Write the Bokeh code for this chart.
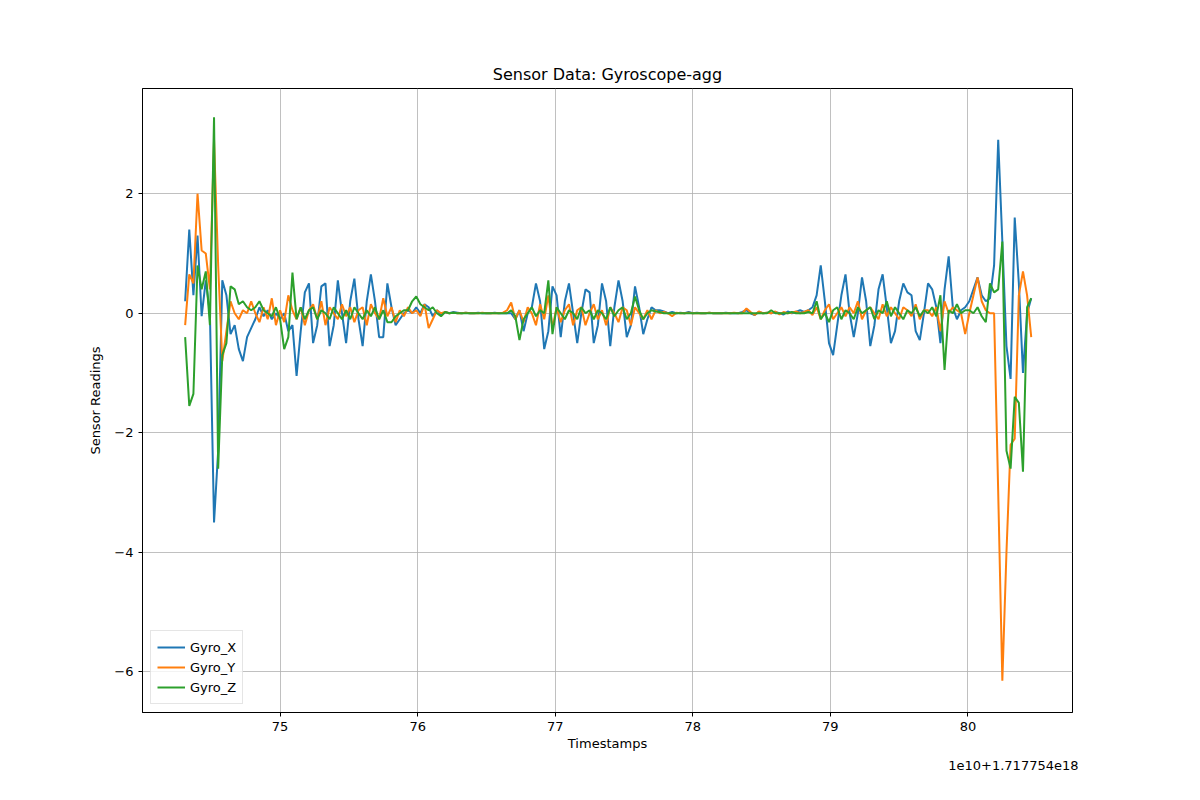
import numpy as np
from bokeh.embed import file_html
from bokeh.models import FixedTicker, Range1d, Title
from bokeh.plotting import figure
from bokeh.resources import INLINE

# timestamps in units of 1e10 ns, offset 1.717754e18
t_start = 74.31
t_step = 0.03

gyro_x = [
    0.2, 1.4, 0.3, 1.3, -0.05, 0.55, 0.0, -3.5, -2.3, 0.55,
    0.3, -0.35, -0.2, -0.6, -0.8, -0.4, -0.25, -0.1, 0.1, -0.05,
    0.05, -0.1, 0.0, -0.1, 0.0, -0.3, -0.2, -1.05, -0.3, 0.35,
    0.5, -0.5, -0.2, 0.45, 0.5, -0.55, -0.2, 0.55, 0.0, -0.5,
    0.2, 0.58, -0.1, -0.55, 0.2, 0.65, 0.2, -0.4, -0.4, 0.5,
    0.1, -0.2, -0.1, 0.0, 0.05, 0.0, 0.1, 0.0, 0.15, 0.1,
    -0.05, 0.05, -0.03, 0.02, 0.0, 0.02, 0.01, 0.0, 0.01, 0.0,
    0.0, 0.01, 0.0, 0.0, 0.0, 0.01, 0.0, 0.0, 0.0, 0.0,
    -0.1, 0.05, -0.3, 0.0, 0.1, 0.5, 0.2, -0.6, -0.3, 0.45,
    0.3, -0.4, 0.2, 0.5, 0.0, -0.5, 0.0, 0.4, 0.35, -0.5,
    -0.2, 0.5, 0.2, -0.55, 0.1, 0.55, 0.2, -0.4, -0.2, 0.45,
    0.1, -0.35, -0.1, 0.1, 0.05, 0.05, 0.03, 0.0, 0.02, 0.0,
    0.01, 0.0, 0.02, 0.0, 0.01, 0.0, 0.0, 0.01, 0.0, 0.0,
    0.0, 0.01, 0.0, 0.0, 0.0, 0.02, 0.05, 0.0, -0.03, 0.02,
    0.0, 0.01, 0.0, 0.02, 0.0, -0.02, 0.03, 0.0, 0.02, 0.05,
    0.02, 0.05, 0.1, 0.3, 0.8, 0.2, -0.5, -0.7, -0.2, 0.3,
    0.65, 0.0, -0.4, 0.0, 0.6, 0.2, -0.55, -0.2, 0.4, 0.65,
    0.1, -0.5, -0.3, 0.2, 0.5, 0.35, 0.3, -0.3, -0.45, 0.0,
    0.5, 0.4, 0.1, -0.5, 0.4, 0.95, 0.1, -0.1, 0.05, 0.1,
    0.2, 0.4, 0.6, 0.3, 0.2, 0.25, 0.8, 2.9, 1.2, -0.55,
    -1.1, 1.6, 0.5, -1.0, 0.0, 0.25,
]

gyro_y = [
    -0.2, 0.65, 0.5, 2.0, 1.05, 1.0, 0.4, 2.9, 0.8, -0.8,
    -0.3, 0.2, 0.0, -0.1, 0.05, 0.0, 0.2, 0.0, -0.15, 0.1,
    -0.1, 0.25, -0.2, 0.05, -0.15, 0.3, 0.05, -0.1, 0.1, -0.2,
    0.05, 0.15, -0.1, 0.2, -0.2, 0.1, 0.0, -0.1, 0.15, -0.05,
    0.1, -0.15, 0.05, 0.1, -0.2, 0.15, 0.0, -0.1, 0.25, -0.05,
    0.1, -0.15, 0.05, -0.05, 0.1, 0.0, 0.05, -0.05, 0.15, -0.25,
    -0.1, 0.05, 0.0, 0.02, 0.0, 0.01, 0.0, 0.0, 0.01, 0.0,
    0.0, 0.0, 0.01, 0.0, 0.0, 0.0, 0.0, 0.01, 0.05, 0.18,
    -0.1, 0.05, -0.15, 0.1, 0.0, -0.2, 0.15, -0.1, 0.3, -0.25,
    0.1, -0.15, 0.05, 0.15, -0.2, 0.05, 0.1, -0.2, 0.0, 0.15,
    -0.1, 0.05, -0.2, 0.1, 0.0, -0.15, 0.1, 0.05, -0.2, 0.1,
    0.0, -0.1, 0.05, -0.1, 0.05, 0.0, 0.02, 0.0, -0.05, 0.01,
    0.0, 0.0, 0.01, 0.0, 0.0, 0.0, 0.0, 0.01, 0.0, 0.0,
    0.0, 0.0, 0.0, 0.01, 0.0, 0.0, 0.08, 0.02, -0.03, 0.03,
    0.0, 0.01, 0.0, 0.03, -0.02, 0.02, 0.0, 0.01, 0.03, 0.0,
    0.02, 0.05, -0.03, 0.1, -0.1, 0.05, 0.15, -0.1, 0.0, 0.1,
    -0.05, 0.1, 0.0, 0.2, -0.1, 0.05, 0.1, 0.0, -0.1, 0.15,
    -0.05, 0.1, 0.0, -0.1, 0.1, 0.05, -0.05, 0.15, -0.1, 0.05,
    0.05, -0.05, 0.1, -0.3, 0.2, 0.0, 0.1, 0.05, 0.0, -0.35,
    0.0, 0.3, 0.6, 0.2, 0.05, 0.0, 0.0, -3.0, -6.15, -4.0,
    -2.2, -2.1, 0.3, 0.7, 0.3, -0.4,
]

gyro_z = [
    -0.4, -1.55, -1.35, 0.8, 0.4, 0.7, -0.2, 3.28, -2.6, -0.7,
    -0.5, 0.45, 0.4, 0.15, 0.2, 0.1, 0.05, 0.1, 0.2, 0.05,
    0.0, -0.05, 0.1, -0.1, -0.6, -0.4, 0.68, -0.1, 0.1, -0.1,
    0.05, 0.1, -0.1, 0.05, 0.0, -0.1, 0.1, 0.0, -0.1, 0.05,
    -0.1, 0.1, 0.0, -0.1, 0.05, -0.05, 0.1, -0.1, 0.05, -0.15,
    -0.15, -0.05, 0.0, 0.05, 0.05, 0.2, 0.28, 0.15, 0.1, 0.05,
    0.1, 0.0, -0.05, 0.02, 0.0, 0.01, 0.0, 0.0, 0.0, 0.0,
    0.0, 0.0, 0.0, 0.0, 0.0, 0.0, 0.0, 0.0, 0.0, 0.05,
    -0.05, -0.45, -0.1, 0.0, 0.1, -0.05, 0.05, 0.0, 0.55, -0.35,
    0.1, 0.0, -0.1, 0.05, 0.0, -0.1, 0.1, 0.0, 0.05, -0.1,
    0.05, 0.0, -0.1, 0.1, -0.05, 0.05, 0.1, -0.1, 0.0, 0.28,
    0.05, -0.1, 0.0, 0.05, 0.03, 0.02, 0.0, 0.0, 0.0, 0.0,
    0.0, 0.0, 0.0, 0.0, 0.0, 0.0, 0.0, 0.0, 0.0, 0.0,
    0.0, 0.0, 0.0, 0.0, 0.0, 0.0, 0.0, 0.0, 0.0, 0.0,
    0.0, 0.0, 0.05, 0.0, 0.0, 0.0, 0.0, 0.02, 0.0, 0.0,
    0.0, 0.02, 0.0, 0.2, -0.1, 0.0, -0.15, 0.05, 0.1, -0.1,
    0.05, 0.0, -0.1, 0.1, 0.0, 0.05, 0.1, -0.1, 0.05, 0.0,
    0.2, -0.05, 0.1, 0.0, -0.1, 0.05, 0.0, 0.1, -0.05, 0.05,
    0.0, 0.1, -0.05, 0.3, -0.95, 0.05, 0.0, 0.15, 0.0, 0.05,
    0.05, 0.0, 0.1, -0.05, -0.15, 0.5, 0.35, 0.4, 1.2, -2.3,
    -2.6, -1.4, -1.5, -2.65, 0.1, 0.25,
]

timestamps = t_start + t_step * np.arange(len(gyro_x))

x_ticks = [75, 76, 77, 78, 79, 80]
y_ticks = [-6, -4, -2, 0, 2]

FONT = "DejaVu Sans"

p = figure(width=1184, height=784, output_backend="svg", toolbar_location=None,
           x_range=Range1d(74.0, 80.76), y_range=Range1d(-6.68, 3.76),
           min_border_left=142, min_border_right=112,
           min_border_top=88, min_border_bottom=72)
p.add_layout(Title(text="Sensor Data: Gyroscope-agg", align="center",
                   text_font=FONT, text_font_size="16px",
                   text_font_style="normal", text_color="black"), "above")

for data, name, color in [(gyro_x, "Gyro_X", "#1f77b4"),
                          (gyro_y, "Gyro_Y", "#ff7f0e"),
                          (gyro_z, "Gyro_Z", "#2ca02c")]:
    p.line(timestamps, data, line_color=color, line_width=2, legend_label=name)

p.xaxis.ticker = FixedTicker(ticks=x_ticks)
p.yaxis.ticker = FixedTicker(ticks=y_ticks)
p.yaxis.major_label_overrides = {v: str(v).replace("-", "\u2212") for v in y_ticks}
p.xaxis.axis_label = "Timestamps"
p.yaxis.axis_label = "Sensor Readings"
for ax in (p.xaxis, p.yaxis):
    ax.axis_label_text_font = FONT
    ax.axis_label_text_font_style = "normal"
    ax.axis_label_text_font_size = "13px"
    ax.axis_label_text_color = "black"
    ax.major_label_text_font = FONT
    ax.major_label_text_font_size = "13px"
    ax.major_label_text_color = "black"
    ax.minor_tick_line_color = None
    ax.major_tick_out = 4
    ax.major_tick_in = 0
    ax.axis_line_color = "black"
p.xaxis.axis_label_standoff = 2
p.yaxis.axis_label_standoff = 8

p.add_layout(Title(text="1e10+1.717754e18", align="right", text_font=FONT,
                   text_font_size="13px", text_font_style="normal",
                   text_color="black", offset=-6), "below")

p.grid.grid_line_color = "#b0b0b0"
p.grid.grid_line_width = 0.8
p.outline_line_color = "black"
p.outline_line_alpha = 1

p.legend.location = "bottom_left"
p.legend.label_text_font = FONT
p.legend.label_text_font_size = "13px"
p.legend.label_text_color = "black"
p.legend.border_line_color = "#cccccc"
p.legend.background_fill_alpha = 0.8
p.legend.glyph_width = 28
p.legend.spacing = 0
p.legend.padding = 6
p.legend.margin = 8
p.legend.label_height = 16

open("out.html", "w").write(file_html(p, INLINE))
